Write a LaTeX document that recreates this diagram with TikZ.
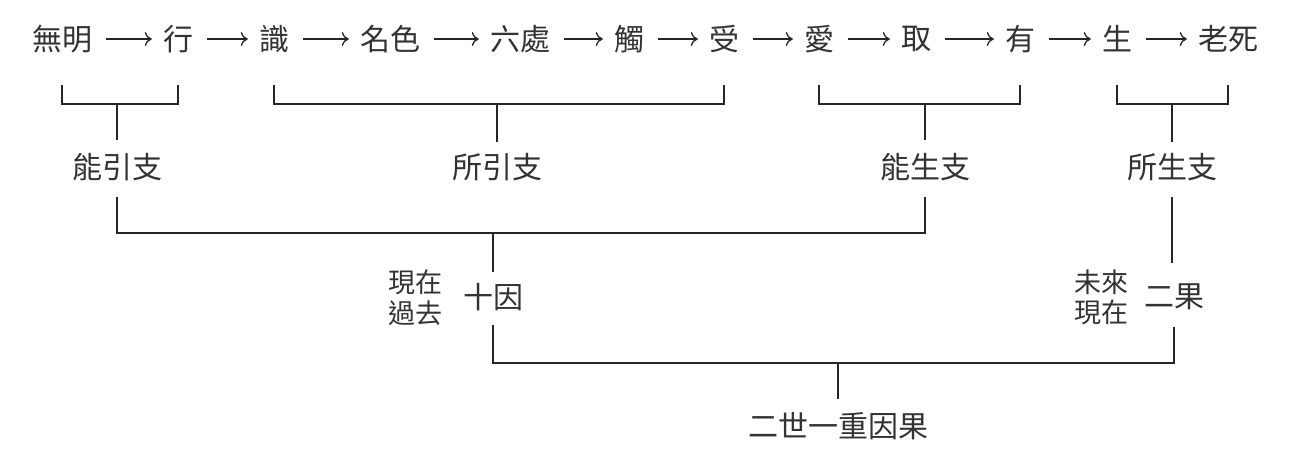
\documentclass[tikz,border=0pt]{standalone}
\usepackage{fontspec}
\newfontfamily\cjk{Noto Sans CJK TC}
\usetikzlibrary{arrows.meta}
\begin{document}
\begin{tikzpicture}[x=1pt,y=-1pt,
  lbl/.style={font=\cjk\fontsize{30}{30}\selectfont, text=black!80, inner sep=0pt},
  small/.style={font=\cjk\fontsize{27}{28}\selectfont, text=black!80, inner sep=0pt, align=center},
  link/.style={line width=1.5pt, draw=black!85},
  arr/.style={line width=1.3pt, draw=black!85, -{Computer Modern Rightarrow[length=7pt,width=14pt]}, shorten <=14pt, shorten >=11pt}]
\useasboundingbox (0,0) rectangle (1298,454);
% top row
\node[lbl] (n1) at (62,39) {無明};
\node[lbl] (n2) at (178,39) {行};
\node[lbl] (n3) at (274,39) {識};
\node[lbl] (n4) at (390,39) {名色};
\node[lbl] (n5) at (520,39) {六處};
\node[lbl] (n6) at (629,39) {觸};
\node[lbl] (n7) at (724,39) {受};
\node[lbl] (n8) at (819,39) {愛};
\node[lbl] (n9) at (916,39) {取};
\node[lbl] (n10) at (1020,39) {有};
\node[lbl] (n11) at (1117,39) {生};
\node[lbl] (n12) at (1228,39) {老死};
\foreach \a/\b in {n1/n2,n2/n3,n3/n4,n4/n5,n5/n6,n6/n7,n7/n8,n8/n9,n9/n10,n10/n11,n11/n12}
  \draw[arr] (\a.east) -- (\b.west);
% second row
\node[lbl] (a1) at (117,167) {能引支};
\node[lbl] (a2) at (497,167) {所引支};
\node[lbl] (a3) at (925,167) {能生支};
\node[lbl] (a4) at (1172,167) {所生支};
% brackets
\draw[link] (n1.center |- 0,85) -- (n1.center |- 0,104) -- (n2.center |- 0,104) -- (n2.center |- 0,85);
\draw[link] (a1.center |- 0,104) -- (a1.center |- 0,140);
\draw[link] (n3.center |- 0,85) -- (n3.center |- 0,104) -- (n7.center |- 0,104) -- (n7.center |- 0,85);
\draw[link] (a2.center |- 0,104) -- (a2.center |- 0,142);
\draw[link] (n8.center |- 0,85) -- (n8.center |- 0,104) -- (n10.center |- 0,104) -- (n10.center |- 0,85);
\draw[link] (a3.center |- 0,104) -- (a3.center |- 0,140);
\draw[link] (n11.center |- 0,85) -- (n11.center |- 0,104) -- (n12.center |- 0,104) -- (n12.center |- 0,85);
\draw[link] (a4.center |- 0,104) -- (a4.center |- 0,142);
% third level
\node[lbl] (c1) at (493,297) {十因};
\node[lbl] (c2) at (1174,297) {二果};
\node[small] (p1) at (415,282) {現在};
\node[small] (p2) at (415,313) {過去};
\node[small] (f1) at (1101,282) {未來};
\node[small] (f2) at (1101,312) {現在};
\draw[link] (a1.center |- 0,197) -- (a1.center |- 0,233) -- (a3.center |- 0,233) -- (a3.center |- 0,197);
\draw[link] (c1.center |- 0,233) -- (c1.center |- 0,272);
\draw[link] (a4.center |- 0,197) -- (a4.center |- 0,263);
% bottom
\node[lbl] (d) at (838,426) {二世一重因果};
\draw[link] (c1.center |- 0,325) -- (c1.center |- 0,363) -- (c2.center |- 0,363) -- (c2.center |- 0,327);
\draw[link] (d.center |- 0,363) -- (d.center |- 0,399);
\end{tikzpicture}
\end{document}
